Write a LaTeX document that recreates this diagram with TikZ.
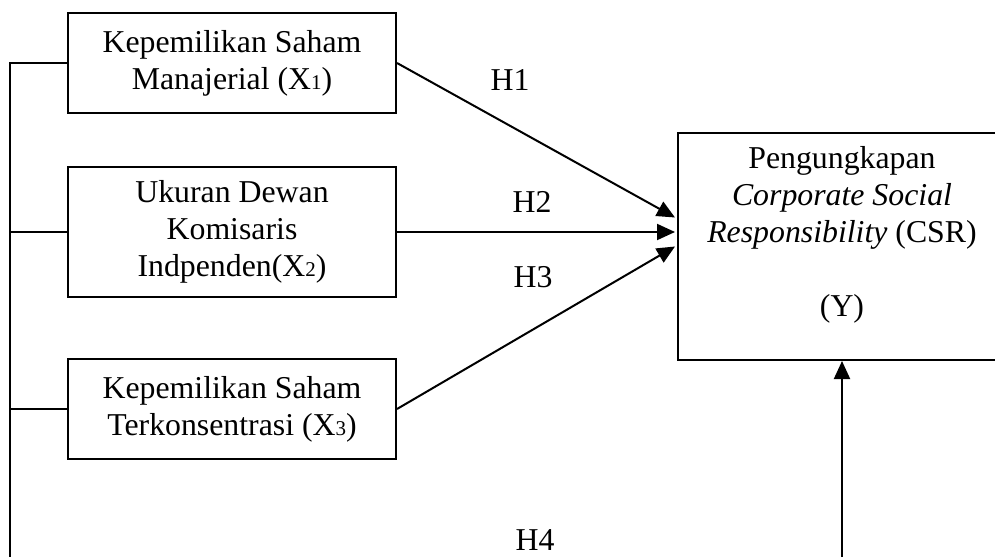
\documentclass[tikz,border=0pt]{standalone}
\usepackage{fontspec}
\setmainfont{Liberation Serif}
\usetikzlibrary{arrows.meta, positioning, calc}
\newcommand\idx[1]{{\fontsize{10.5}{10}\selectfont #1}}

\begin{document}
\begin{tikzpicture}[
    x=0.5pt, y=-0.5pt,
    var/.style={rectangle, draw, line width=1pt, minimum width=164pt, align=center, inner sep=0pt, font=\fontsize{15.9}{18.5}\selectfont},
    hyp/.style={inner sep=0pt, font=\fontsize{15.9}{18.5}\selectfont},
    arrow/.style={-{Triangle[length=9pt,width=8pt]}, line width=1pt},
    link/.style={line width=1pt}
]
\useasboundingbox (0,0) rectangle (995,557);
\clip (0,0) rectangle (995,557);

% Independent variables
\node[var, minimum height=50pt] (x1) at (232,63) {Kepemilikan Saham\\Manajerial (X\idx{1})};
\node[var, minimum height=65pt, below=26pt of x1] (x2) {Ukuran Dewan\\Komisaris\\Indpenden(X\idx{2})};
\node[var, minimum height=50pt, below=30pt of x2] (x3) {Kepemilikan Saham\\Terkonsentrasi (X\idx{3})};

% Dependent variable
\node[var, minimum height=113.5pt] (y) at (842,246.5) {};
\node[hyp, align=center] (ytext) at (842,235) {Pengungkapan\\\textit{Corporate Social}\\\textit{Responsibility} (CSR)\\[18.5pt](Y)};

% Joint line on the left
\coordinate (lb) at (10,557);
\coordinate (yb) at (842,557);
\draw[link] (x1.west) -| (lb);
\draw[link] (x2.west) -- (x2.west -| lb);
\draw[link] (x3.west) -- (x3.west -| lb);

% Hypotheses
\draw[arrow] (x1.east) -- ($(y.west)+(-2,-29)$);
\draw[arrow] (x2.east) -- ($(x2.east -| y.west)+(-2,0)$);
\draw[arrow] (x3.east) -- ($(y.west)+(-2,0)$);
\draw[arrow] (yb) -- (y.south);

\node[hyp] (h1) at (510,80) {H1};
\node[hyp] (h2) at (532,202) {H2};
\node[hyp] (h3) at (533,277) {H3};
\node[hyp] (h4) at (535,540) {H4};

\end{tikzpicture}
\end{document}
